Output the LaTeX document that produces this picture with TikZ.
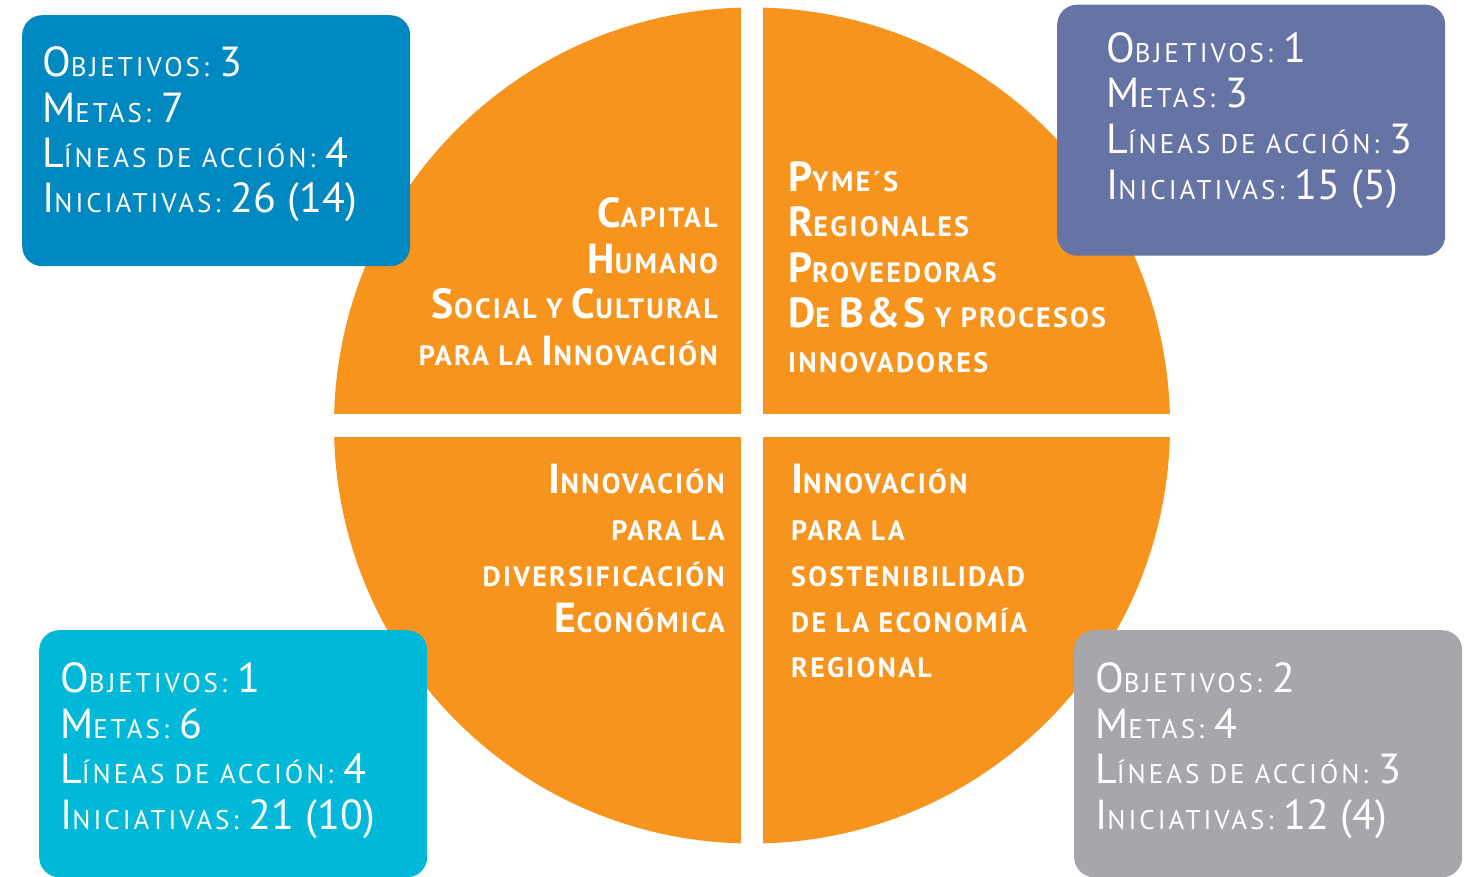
\documentclass[tikz,border=0pt]{standalone}
\usepackage{fontspec}
\setmainfont{PT Sans}
\newfontfamily\boxfont[LetterSpace=11]{PT Sans}
\newfontfamily\quadfont[LetterSpace=8]{PT Sans}
\definecolor{orng}{HTML}{F7941E}
\definecolor{cTL}{HTML}{0088C1}
\definecolor{cTR}{HTML}{6574A4}
\definecolor{cBL}{HTML}{00B9D9}
\definecolor{cBR}{HTML}{A6A7AB}
\def\bgls{0}
\newcommand\Bg[1]{{\addfontfeature{LetterSpace=\bgls}\fontsize{42}{42}\selectfont #1}}
\tikzset{
  infobox/.style={rounded corners=20pt, inner sep=0pt, anchor=north west},
  boxline/.style={anchor=base west, inner sep=0pt, text=white, font=\def\bgls{0}\boxfont\fontsize{27}{27}\selectfont},
  qleft/.style={anchor=base west, inner sep=0pt, text=white, font=\def\bgls{6}\quadfont\bfseries\fontsize{28}{28}\selectfont},
  qright/.style={anchor=base east, inner sep=0pt, text=white, font=\def\bgls{6}\quadfont\bfseries\fontsize{28}{28}\selectfont},
}
\begin{document}
\begin{tikzpicture}[x=1pt,y=-1pt]
\useasboundingbox (0,0) rectangle (1472,877);
% disc
\node[circle, fill=orng, minimum size=836pt, inner sep=0pt] (disc) at (752,425.5) {};
\fill[white] (740.5,0) rectangle (763,860);
\fill[white] (320,414) rectangle (1185,437);
% boxes
\node[infobox, fill=cTL, minimum width=388pt, minimum height=251pt] (boxTL) at (22,15) {};
\node[infobox, fill=cTR, minimum width=388pt, minimum height=251pt] (boxTR) at (1057,4.5) {};
\node[infobox, fill=cBL, minimum width=388pt, minimum height=247pt] (boxBL) at (39,630) {};
\node[infobox, fill=cBR, minimum width=388pt, minimum height=247pt] (boxBR) at (1074,630) {};
% box texts
\node[boxline] (tl1) at (42,77) {\Bg{O}BJETIVOS: \Bg{3}};
\node[boxline] (tl2) at (42,122.5) {\Bg{M}ETAS: \Bg{7}};
\node[boxline] (tl3) at (42,168) {\Bg{L}ÍNEAS DE ACCIÓN: \Bg{4}};
\node[boxline] (tl4) at (42,213) {\Bg{I}NICIATIVAS: \Bg{26 (14)}};
\node[boxline] (tr1) at (1106,63) {\Bg{O}BJETIVOS: \Bg{1}};
\node[boxline] (tr2) at (1106,108) {\Bg{M}ETAS: \Bg{3}};
\node[boxline] (tr3) at (1106,153.5) {\Bg{L}ÍNEAS DE ACCIÓN: \Bg{3}};
\node[boxline] (tr4) at (1106,199.5) {\Bg{I}NICIATIVAS: \Bg{15 (5)}};
\node[boxline] (bl1) at (60,692) {\Bg{O}BJETIVOS: \Bg{1}};
\node[boxline] (bl2) at (60,738) {\Bg{M}ETAS: \Bg{6}};
\node[boxline] (bl3) at (60,783.5) {\Bg{L}ÍNEAS DE ACCIÓN: \Bg{4}};
\node[boxline] (bl4) at (60,829) {\Bg{I}NICIATIVAS: \Bg{21 (10)}};
\node[boxline] (br1) at (1095,692) {\Bg{O}BJETIVOS: \Bg{2}};
\node[boxline] (br2) at (1095,738) {\Bg{M}ETAS: \Bg{4}};
\node[boxline] (br3) at (1095,783.5) {\Bg{L}ÍNEAS DE ACCIÓN: \Bg{3}};
\node[boxline] (br4) at (1095,829) {\Bg{I}NICIATIVAS: \Bg{12 (4)}};
% quadrant texts
\node[qright] (q11) at (718,228) {\Bg{C}APITAL};
\node[qright] (q12) at (718,273) {\Bg{H}UMANO};
\node[qright] (q13) at (718,318.5) {\Bg{S}OCIAL Y \Bg{C}ULTURAL};
\node[qright] (q14) at (718,365) {PARA LA \Bg{I}NNOVACIÓN};
\node[qleft] (q21) at (788,192) {\Bg{P}YME´S};
\node[qleft] (q22) at (788,237) {\Bg{R}EGIONALES};
\node[qleft] (q23) at (788,282.5) {\Bg{P}ROVEEDORAS};
\node[qleft] (q24) at (788,327.5) {\Bg{D}E \Bg{B\&S} Y PROCESOS};
\node[qleft] (q25) at (788,372) {INNOVADORES};
\node[qright] (q31) at (725,493.5) {\Bg{I}NNOVACIÓN};
\node[qright] (q32) at (725,540) {PARA LA};
\node[qright] (q33) at (725,586.5) {DIVERSIFICACIÓN};
\node[qright] (q34) at (725,632) {\Bg{E}CONÓMICA};
\node[qleft] (q41) at (791,493.5) {\Bg{I}NNOVACIÓN};
\node[qleft] (q42) at (791,540) {PARA LA};
\node[qleft] (q43) at (791,586.5) {SOSTENIBILIDAD};
\node[qleft] (q44) at (791,632) {DE LA ECONOMÍA};
\node[qleft] (q45) at (791,677) {REGIONAL};
\end{tikzpicture}
\end{document}
